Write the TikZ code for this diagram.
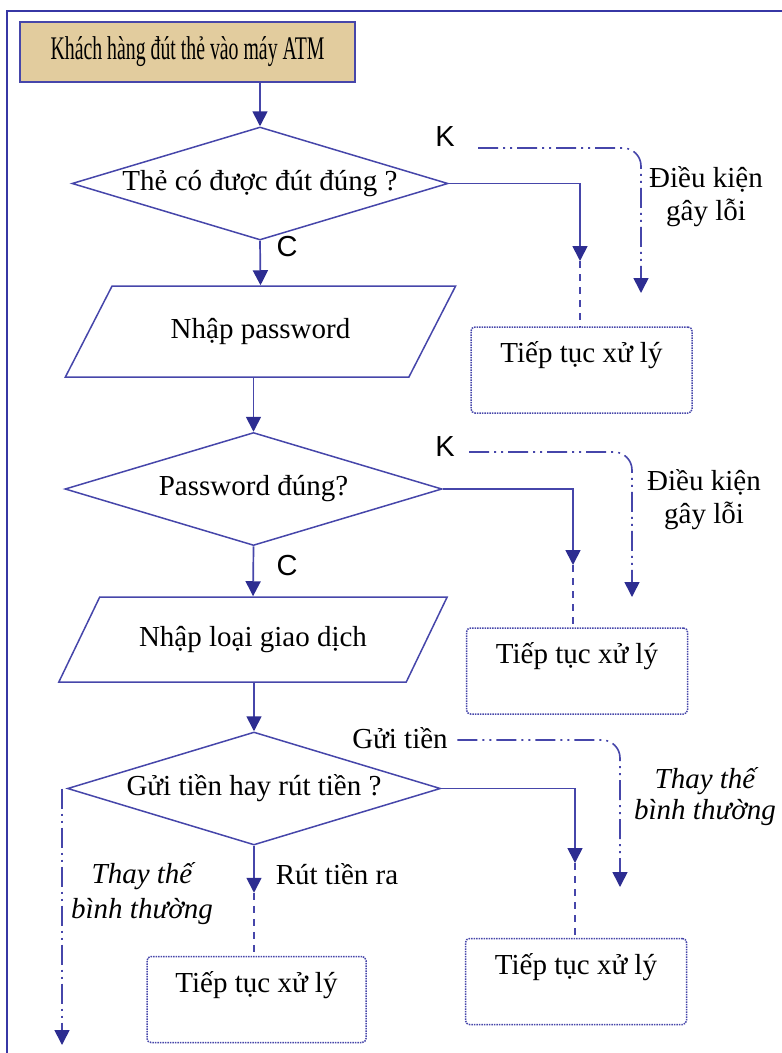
\documentclass[tikz,border=0pt]{standalone}
\usepackage{fontspec}
\setmainfont{Liberation Serif}
\newfontfamily\narrowserif[FakeStretch=0.6]{Liberation Serif}
\newfontfamily\labelsans{Liberation Sans}
\usetikzlibrary{shapes.geometric,arrows.meta}
\definecolor{linecol}{RGB}{70,70,170}
\definecolor{tipcol}{RGB}{45,45,145}
\definecolor{framecol}{RGB}{55,55,165}
\definecolor{paper}{RGB}{226,204,158}

\begin{document}
\begin{tikzpicture}[x=1pt, y=-1pt, >={Triangle[width=15pt,length=15pt,color=tipcol]},
                    font=\fontsize{29}{33}\selectfont]
            % Kieu cho cac khoi
            \tikzstyle{startbox}=[rectangle, draw=linecol, fill=paper, line width=1.5pt, minimum width=335, minimum height=60, font=\narrowserif\fontsize{33}{36}\selectfont]
            \tikzstyle{decision}=[diamond, draw=linecol, line width=1.5pt, aspect=3.3, inner sep=0pt, minimum width=376, minimum height=113]
            \tikzstyle{inputbox}=[trapezium, trapezium left angle=43, trapezium right angle=137, trapezium stretches=true, draw=linecol, line width=1.5pt, inner sep=0pt, minimum width=391, minimum height=91]
            \tikzstyle{procbox}=[rectangle, rounded corners=4pt, draw=linecol, densely dotted, line width=1.5pt, minimum width=221, minimum height=86, text height=20pt, text depth=35pt]
            \tikzstyle{flow}=[->, draw=linecol, line width=1.7pt]
            \tikzstyle{gap}=[draw=linecol, line width=1.4pt, dash pattern=on 7pt off 6pt]
            \tikzstyle{altline}=[->, draw=linecol, line width=1.6pt, dash pattern=on 20pt off 5pt on 2pt off 5pt on 2pt off 5pt, rounded corners=18pt]
            \tikzstyle{sanslabel}=[font=\labelsans\fontsize{29}{33}\selectfont]
            \tikzstyle{note}=[align=center]

            \useasboundingbox (0,0) rectangle (782,1053);
            \draw[framecol, line width=2pt] (782,11) -- (7,11) -- (7,1053);

            % Khoi
            \node[startbox] (start) at (187.5,52) {Khách hàng đút thẻ vào máy ATM};
            \node[decision] (d1) at (260,183.5) {Thẻ có được đút đúng ?};
            \node[inputbox] (p1) at (260.5,331.5) {Nhập password};
            \node[decision, minimum width=377] (d2) at (253.5,489) {Password đúng?};
            \node[inputbox, trapezium left angle=41, trapezium right angle=139, minimum width=390, minimum height=85] (p2) at (253,639.5) {Nhập loại giao dịch};
            \node[decision, minimum width=373] (d3) at (254,788.5) {Gửi tiền hay rút tiền ?};

            \node[procbox] (b1) at (581.5,370) {Tiếp tục xử lý};
            \node[procbox] (b2) at (577,671) {Tiếp tục xử lý};
            \node[procbox] (b3) at (576,981.5) {Tiếp tục xử lý};
            \node[procbox, minimum width=219] (b4) at (256.5,999.5) {Tiếp tục xử lý};

            % Diem cuoi
            \coordinate (t1) at (580,261);
            \coordinate (t2) at (573,565);
            \coordinate (t3) at (575,863);
            \coordinate (e1) at (641,293);
            \coordinate (e2) at (632,597);
            \coordinate (e3) at (620,887);
            \coordinate (e4) at (62,1045);

            % Nhan
            \node[sanslabel] (k1) at (445,137) {K};
            \node[sanslabel] (c1) at (287,247) {C};
            \node[sanslabel] (k2) at (445,447) {K};
            \node[sanslabel] (c2) at (287,566) {C};
            \node[note] (n1) at (706,197) {Điều kiện\\gây lỗi};
            \node[note] (n2) at (704,500) {Điều kiện\\gây lỗi};
            \node (gui) at (400,738) {Gửi tiền};
            \node[note, font=\itshape\fontsize{29}{31}\selectfont] (n3) at (705,797) {Thay thế\\bình thường};
            \node (rut) at (337,874) {Rút tiền ra};
            \node[note, font=\itshape\fontsize{29}{35}\selectfont] (n4) at (142,894) {Thay thế\\bình thường};

            % Mui ten
            \draw[flow] (d1.north |- start.south) -- (d1.north);
            \draw[flow] (d1.south) -- (p1.north);
            \draw[flow] (d2.north |- p1.south) -- (d2.north);
            \draw[flow] (d2.south) -- (p2.north);
            \draw[flow] (d3.north |- p2.south) -- (d3.north);

            \draw[flow] (d1.east) -| (t1);
            \draw[gap] (t1) -- (t1 |- b1.north);
            \draw[flow] (d2.east) -| (t2);
            \draw[gap] (t2) -- (t2 |- b2.north);
            \draw[flow] (d3.east) -| (t3);
            \draw[gap] (t3) -- (t3 |- b3.north);
            \draw[flow] (d3.south) -- ++(0,47) coordinate (t4);
            \draw[gap] (t4) -- (t4 |- b4.north);

            \draw[altline] ([xshift=20pt,yshift=-11pt]k1.east) -| (e1);
            \draw[altline] ([xshift=11pt,yshift=-5pt]k2.east) -| (e2);
            \draw[altline] ([xshift=6pt,yshift=-2pt]gui.east) -| (e3);
            \draw[altline] (d3.west -| e4) -- (e4);
        \end{tikzpicture}
\end{document}
